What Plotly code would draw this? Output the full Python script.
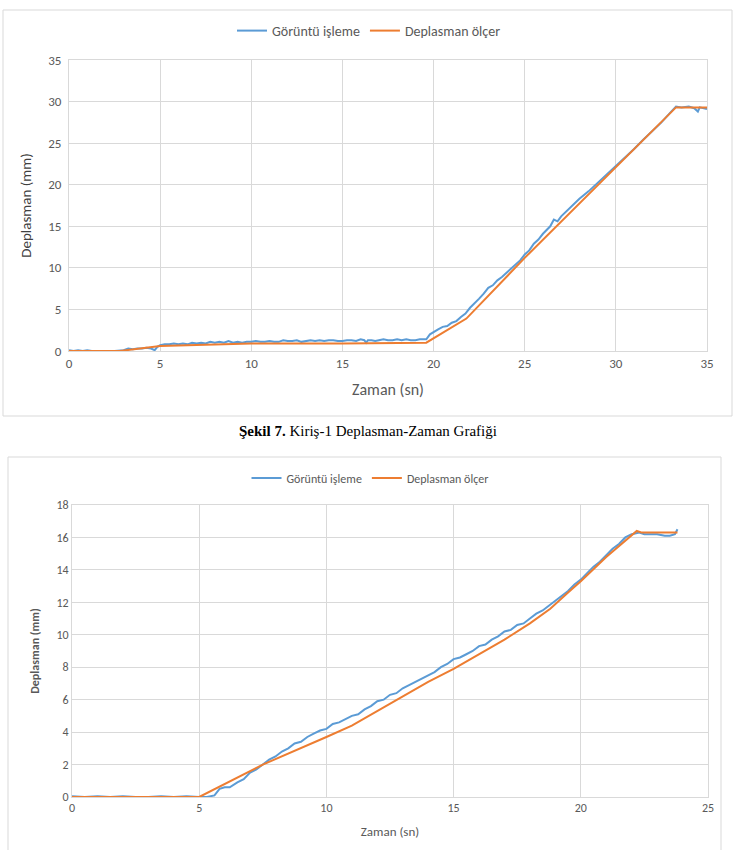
import plotly.graph_objects as go

# ---------------- Chart 1 (Kiriş-1) data ----------------
t1_img = [0, 0.25, 0.5, 0.75, 1, 1.25, 1.5, 2, 2.5, 3, 3.25, 3.5, 3.75, 4, 4.25, 4.5, 4.7, 4.85, 5, 5.25, 5.5,
          5.75, 6, 6.25, 6.5, 6.75, 7, 7.25, 7.5, 7.75, 8, 8.25, 8.5, 8.75, 9, 9.25, 9.5, 9.75,
          10, 10.25, 10.5, 10.75, 11, 11.25, 11.5, 11.75, 12, 12.25, 12.5, 12.75, 13, 13.25, 13.5, 13.75,
          14, 14.25, 14.5, 14.75, 15, 15.25, 15.5, 15.75, 16, 16.2, 16.3, 16.4, 16.6, 16.8, 17, 17.25,
          17.5, 17.75, 18, 18.25, 18.5, 18.75, 19, 19.25, 19.5, 19.6, 19.8, 20, 20.25, 20.5, 20.75, 21,
          21.25, 21.5, 21.75, 22, 22.25, 22.5, 22.75, 23, 23.25, 23.5, 23.75, 24, 24.25, 24.5, 24.75,
          25, 25.25, 25.5, 25.75, 26, 26.25, 26.4, 26.6, 26.8, 27, 27.5, 28, 28.5, 29, 29.5, 30, 30.5,
          31, 31.5, 32, 32.5, 33, 33.3, 33.6, 34, 34.3, 34.5, 34.6, 35]
d1_img = [0.1, 0.0, 0.1, 0.0, 0.1, 0.0, 0.0, 0.0, 0.0, 0.1, 0.3, 0.2, 0.3, 0.3, 0.4, 0.3, 0.1, 0.5, 0.7, 0.8, 0.8,
          0.9, 0.8, 0.9, 0.8, 1.0, 0.9, 1.0, 0.9, 1.1, 1.0, 1.1, 1.0, 1.2, 1.0, 1.1, 1.0, 1.1,
          1.1, 1.2, 1.1, 1.1, 1.2, 1.1, 1.1, 1.3, 1.2, 1.2, 1.3, 1.1, 1.2, 1.3, 1.2, 1.3,
          1.2, 1.3, 1.3, 1.2, 1.2, 1.3, 1.3, 1.2, 1.4, 1.3, 1.0, 1.3, 1.3, 1.2, 1.3, 1.4,
          1.3, 1.3, 1.4, 1.3, 1.4, 1.3, 1.3, 1.4, 1.4, 1.4, 2.0, 2.3, 2.6, 2.9, 3.0, 3.4,
          3.6, 4.1, 4.5, 5.2, 5.7, 6.3, 6.9, 7.6, 7.9, 8.5, 8.9, 9.4, 9.9, 10.4, 10.9,
          11.6, 12.1, 12.9, 13.4, 14.1, 14.6, 15.0, 15.8, 15.6, 16.2, 17.3, 18.3, 19.2, 20.2, 21.2, 22.3, 23.3,
          24.3, 25.4, 26.4, 27.5, 28.7, 29.4, 29.3, 29.4, 29.2, 28.8, 29.3, 29.1]

t1_meas = [0, 2.8, 5, 10, 15, 19.6, 21.8, 25, 33.3, 35]
d1_meas = [0.0, 0.0, 0.6, 0.9, 0.9, 1.0, 3.9, 11.2, 29.3, 29.3]

# ---------------- Chart 2 (second beam) data ----------------
t2_img = [0, 0.5, 1, 1.5, 2, 2.5, 3, 3.5, 4, 4.5, 5, 5.3, 5.6, 5.8, 6.0, 6.2, 6.5, 6.75, 7, 7.25, 7.5, 7.75,
          8, 8.25, 8.5, 8.75, 9, 9.25, 9.5, 9.75, 10, 10.25, 10.5, 10.75, 11, 11.25, 11.5, 11.75,
          12, 12.25, 12.5, 12.75, 13, 13.25, 13.5, 13.75, 14, 14.25, 14.5, 14.75, 15, 15.25, 15.5, 15.75,
          16, 16.25, 16.5, 16.75, 17, 17.25, 17.5, 17.75, 18, 18.25, 18.5, 18.75, 19, 19.25, 19.5, 19.75,
          20, 20.25, 20.5, 20.75, 21, 21.25, 21.5, 21.75, 22, 22.3, 22.5, 22.75, 23, 23.3, 23.5, 23.7, 23.8]
d2_img = [0.05, 0.0, 0.05, 0.0, 0.05, 0.0, 0.0, 0.05, 0.0, 0.05, 0.0, 0.0, 0.1, 0.5, 0.6, 0.6, 0.9, 1.1, 1.5, 1.7, 2.0, 2.3,
          2.5, 2.8, 3.0, 3.3, 3.4, 3.7, 3.9, 4.1, 4.2, 4.5, 4.6, 4.8, 5.0, 5.1, 5.4, 5.6,
          5.9, 6.0, 6.3, 6.4, 6.7, 6.9, 7.1, 7.3, 7.5, 7.7, 8.0, 8.2, 8.5, 8.6, 8.8, 9.0,
          9.3, 9.4, 9.7, 9.9, 10.2, 10.3, 10.6, 10.7, 11.0, 11.3, 11.5, 11.8, 12.1, 12.4, 12.7, 13.1,
          13.4, 13.8, 14.2, 14.5, 14.9, 15.3, 15.6, 16.0, 16.2, 16.3, 16.2, 16.2, 16.2, 16.1, 16.1, 16.2, 16.5]

t2_meas = [0, 5, 7.5, 9, 10, 11, 12, 13, 14, 15, 16, 17, 18, 18.8, 19.5, 20, 21, 22.2, 22.4, 23.8]
d2_meas = [0.0, 0.0, 2.0, 3.0, 3.7, 4.4, 5.3, 6.2, 7.1, 7.9, 8.8, 9.7, 10.7, 11.6, 12.6, 13.3, 14.8, 16.4, 16.3, 16.3]

series_names = ["Görüntü işleme", "Deplasman ölçer"]
x_title = "Zaman (sn)"
y_title = "Deplasman (mm)"
caption_bold = "Şekil 7."
caption_rest = " Kiriş-1 Deplasman-Zaman Grafiği"

BLUE = "#5B9BD5"
ORANGE = "#ED7D31"
GRID = "#d9d9d9"
TXT = "#595959"
FONT = "Carlito, Liberation Sans Narrow, Liberation Sans, Arial"

W, H = 735, 850


def px(x):
    return x / W


def py(y):
    return 1 - y / H


fig = go.Figure()
fig.add_trace(go.Scatter(x=t1_img, y=d1_img, mode="lines", name=series_names[0],
                         line=dict(color=BLUE, width=2), xaxis="x", yaxis="y", legend="legend"))
fig.add_trace(go.Scatter(x=t1_meas, y=d1_meas, mode="lines", name=series_names[1],
                         line=dict(color=ORANGE, width=2), xaxis="x", yaxis="y", legend="legend"))
fig.add_trace(go.Scatter(x=t2_img, y=d2_img, mode="lines", name=series_names[0],
                         line=dict(color=BLUE, width=2), xaxis="x2", yaxis="y2", legend="legend2"))
fig.add_trace(go.Scatter(x=t2_meas, y=d2_meas, mode="lines", name=series_names[1],
                         line=dict(color=ORANGE, width=2), xaxis="x2", yaxis="y2", legend="legend2"))

axis_common = dict(showgrid=True, gridcolor=GRID, gridwidth=1, zeroline=False, automargin=False,
                   showline=True, linecolor=GRID, mirror=True, ticks="",
                   tickfont=dict(family=FONT, size=13, color=TXT))

fig.update_layout(
    width=W, height=H,
    margin=dict(l=0, r=0, t=0, b=0, autoexpand=False),
    paper_bgcolor="white", plot_bgcolor="white",
    xaxis=dict(axis_common, domain=[px(69), px(707)], range=[0, 35], dtick=5, anchor="y",
               title=dict(text=x_title, font=dict(family=FONT, size=16, color=TXT), standoff=14)),
    yaxis=dict(axis_common, domain=[py(351), py(60)], range=[0, 35], dtick=5, anchor="x",
               ticklabelstandoff=4,
               title=dict(text=y_title, font=dict(family=FONT, size=15, color="#404040"), standoff=12)),
    xaxis2=dict(axis_common, domain=[px(72), px(708)], range=[0, 25], dtick=5, anchor="y2",
                tickfont=dict(family=FONT, size=12, color=TXT),
                title=dict(text=x_title, font=dict(family=FONT, size=13, color=TXT), standoff=12)),
    yaxis2=dict(axis_common, domain=[py(797), py(505)], range=[0, 18], dtick=2, anchor="x2",
                tickfont=dict(family=FONT, size=12, color=TXT),
                title=dict(text="<b>" + y_title + "</b>", font=dict(family=FONT, size=12, color=TXT), standoff=14)),
    legend=dict(orientation="h", x=px(369), xanchor="center", y=py(31), yanchor="middle",
                font=dict(family=FONT, size=14, color=TXT), bgcolor="rgba(0,0,0,0)",
                itemwidth=30, traceorder="normal"),
    legend2=dict(orientation="h", x=px(370), xanchor="center", y=py(478), yanchor="middle",
                 font=dict(family=FONT, size=12, color=TXT), bgcolor="rgba(0,0,0,0)",
                 itemwidth=30, traceorder="normal"),
    showlegend=True,
)

# chart frames
fig.add_shape(type="rect", xref="paper", yref="paper", x0=px(3), x1=px(732), y0=py(416), y1=py(10),
              line=dict(color=GRID, width=1), layer="below")
fig.add_shape(type="rect", xref="paper", yref="paper", x0=px(8), x1=px(721), y0=py(870), y1=py(457),
              line=dict(color=GRID, width=1), layer="below")

fig.add_annotation(xref="paper", yref="paper", x=px(368), y=py(431), xanchor="center", yanchor="middle",
                   showarrow=False, text="<b>" + caption_bold + "</b>" + caption_rest,
                   font=dict(family="Liberation Serif, Times New Roman, serif", size=15, color="black"))

fig.write_html("out.html", config={"displayModeBar": False},
               post_script="document.body.style.margin='0';document.body.style.padding='0';")
